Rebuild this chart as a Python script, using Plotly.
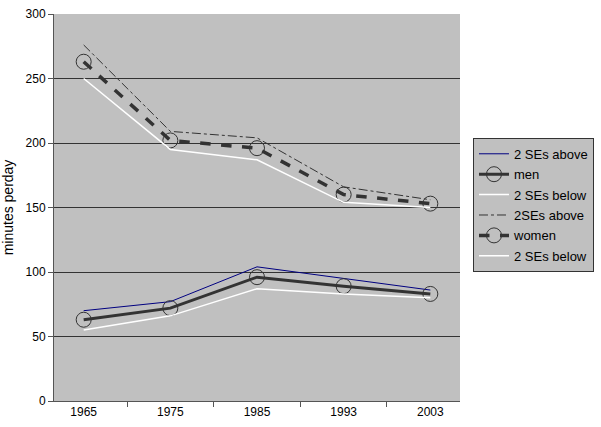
import plotly.graph_objects as go

years = ["1965", "1975", "1985", "1993", "2003"]

men_upper = [70, 77, 104, 95, 86]
men = [63, 72, 96, 89, 83]
men_lower = [55, 66, 87, 83, 80]

women_upper = [276, 209, 204, 166, 156]
women = [263, 202, 196, 160, 153]
women_lower = [250, 195, 187, 154, 150]

fig = go.Figure()

circle = dict(symbol="circle-open", size=15, line=dict(color="#333333", width=1))

fig.add_trace(go.Scatter(x=years, y=men_upper, name="2 SEs above", mode="lines",
                         legendgroup="a", line=dict(color="#000080", width=1)))
fig.add_trace(go.Scatter(x=years, y=men, name="men", mode="lines+markers",
                         legendgroup="b", line=dict(color="#333333", width=3),
                         marker=circle))
fig.add_trace(go.Scatter(x=years, y=men_lower, name="2 SEs below", mode="lines",
                         legendgroup="c", line=dict(color="#ffffff", width=1.5)))
fig.add_trace(go.Scatter(x=years, y=women_upper, name="2SEs above", mode="lines",
                         legendgroup="d",
                         line=dict(color="#333333", width=1, dash="dashdot")))
fig.add_trace(go.Scatter(x=years, y=women, name="women", mode="lines+markers",
                         legendgroup="e",
                         line=dict(color="#333333", width=3.5, dash="dash"),
                         marker=circle))
fig.add_trace(go.Scatter(x=years, y=women_lower, name="2 SEs below", mode="lines",
                         legendgroup="f", line=dict(color="#ffffff", width=1.5)))

fig.update_layout(
    width=601, height=427,
    margin=dict(l=54, r=140, t=7, b=26),
    paper_bgcolor="white",
    plot_bgcolor="#c0c0c0",
    font=dict(family="Liberation Sans, Arial", size=12, color="black"),
    legend=dict(x=1.032, y=0.68, xanchor="left", yanchor="top",
                bgcolor="#c0c0c0", bordercolor="#333333", borderwidth=1,
                font=dict(size=13), tracegroupgap=0.5),
    showlegend=True,
)
fig.update_xaxes(type="category", tickson="boundaries", ticks="outside",
                 ticklen=5, tickcolor="#555555", showline=True,
                 linecolor="#555555", showgrid=False, mirror=False)
fig.update_yaxes(range=[0, 300], dtick=50, ticks="outside", ticklen=5,
                 tickcolor="#555555", showline=True, linecolor="#555555",
                 gridcolor="#333333", gridwidth=1, zeroline=False,
                 title=dict(text="minutes perday", standoff=8))

fig.write_html("out.html", config={"displayModeBar": False},
               post_script="document.body.style.margin='0';")
